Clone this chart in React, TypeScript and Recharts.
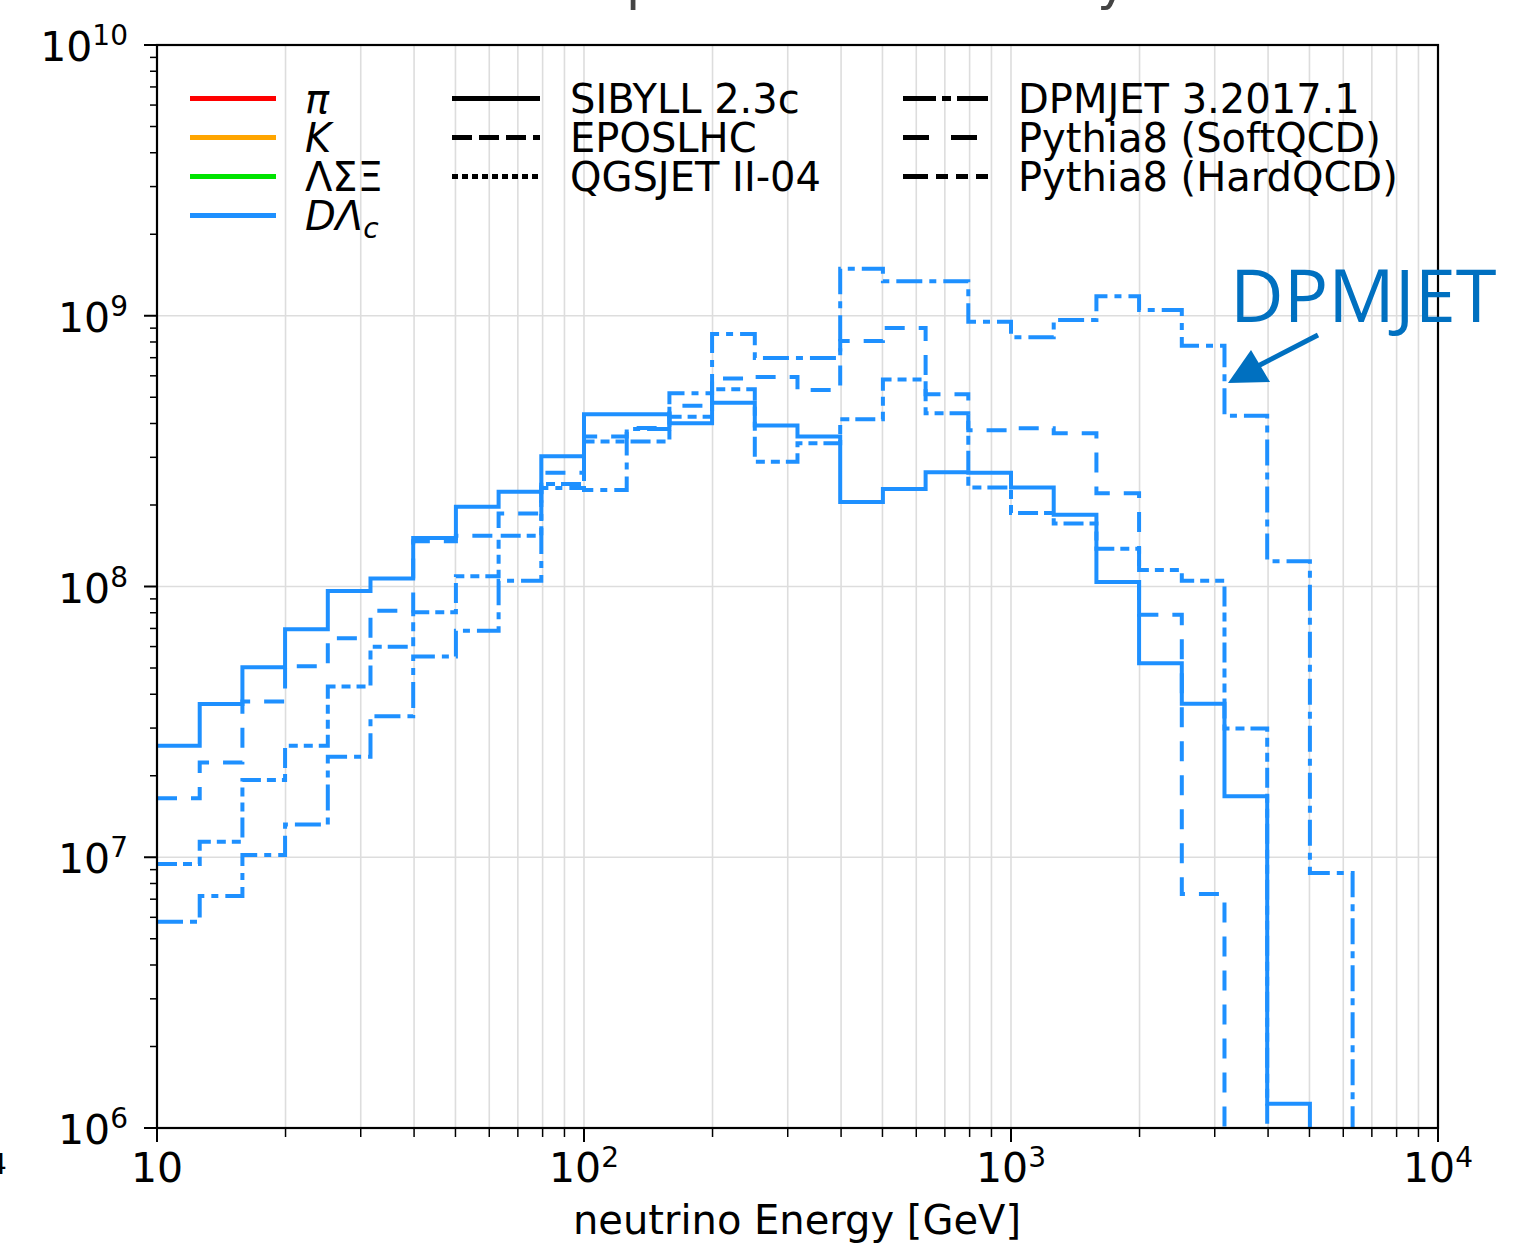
import React from "react";
import { LineChart, Line, XAxis, YAxis, CartesianGrid } from "recharts";

// bin edges in GeV (10 bins per decade)
const binEdges = [
  10, 12.59, 15.85, 19.95, 25.12, 31.62, 39.81, 50.12, 63.1, 79.43,
  100, 125.9, 158.5, 199.5, 251.2, 316.2, 398.1, 501.2, 631, 794.3,
  1000, 1259, 1585, 1995, 2512, 3162, 3981, 5012, 6310, 7943, 10000,
];

// D / Lambda_c neutrino counts per bin (0 = empty bin)
const sibyll = [
  2.58e7, 3.68e7, 5.03e7, 6.95e7, 9.62e7, 1.07e8, 1.51e8, 1.97e8, 2.24e8, 3.03e8,
  4.33e8, 4.33e8, 4.01e8, 4.77e8, 3.93e8, 3.58e8, 2.05e8, 2.29e8, 2.64e8, 2.63e8,
  2.32e8, 1.84e8, 1.04e8, 5.21e7, 3.69e7, 1.68e7, 1.23e6, 0, 0, 0,
];
const dpmjet = [
  5.78e6, 7.19e6, 1.02e7, 1.32e7, 2.35e7, 3.32e7, 5.51e7, 6.87e7, 1.05e8, 2.31e8,
  2.27e8, 3.82e8, 5.17e8, 8.57e8, 6.98e8, 6.98e8, 1.49e9, 1.34e9, 1.34e9, 9.51e8,
  8.33e8, 9.65e8, 1.18e9, 1.05e9, 7.75e8, 4.27e8, 1.24e8, 8.75e6, 0, 0,
];
const pythiaSoft = [
  1.65e7, 2.24e7, 3.76e7, 5.08e7, 6.44e7, 8.14e7, 1.47e8, 1.54e8, 1.86e8, 2.63e8,
  3.58e8, 3.85e8, 4.65e8, 5.87e8, 5.94e8, 5.32e8, 8.07e8, 9.01e8, 5.13e8, 3.78e8,
  3.84e8, 3.68e8, 2.21e8, 7.87e7, 7.31e6, 0, 0, 0, 0, 0,
];
const pythiaHard = [
  9.44e6, 1.14e7, 1.93e7, 2.58e7, 4.27e7, 5.99e7, 8.03e7, 1.09e8, 1.54e8, 2.39e8,
  3.43e8, 3.43e8, 4.24e8, 5.35e8, 2.89e8, 3.38e8, 4.15e8, 5.82e8, 4.36e8, 2.32e8,
  1.87e8, 1.71e8, 1.38e8, 1.15e8, 1.05e8, 2.99e7, 0, 0, 0, 0,
];

const xMajors = [10, 100, 1000, 10000];
const yMajors = [1e6, 1e7, 1e8, 1e9, 1e10];
const minorSteps = [2, 3, 4, 5, 6, 7, 8, 9];

const BLUE = "#1e90ff";
const FONT = "DejaVu Sans";
const FLOOR = 1e3; // empty bins sit under the axis and get clipped

const series = [
  { key: "sibyll", values: sibyll, dash: undefined },
  { key: "dpmjet", values: dpmjet, dash: "26 7 7 7" },
  { key: "pythiaSoft", values: pythiaSoft, dash: "20 14" },
  { key: "pythiaHard", values: pythiaHard, dash: "20 6 9 6 9 6" },
];

function withMinors(majors: number[]) {
  const out: number[] = [];
  majors.forEach((m, i) => {
    out.push(m);
    if (i < majors.length - 1) minorSteps.forEach((s) => out.push(m * s));
  });
  return out;
}

const xTicks = withMinors(xMajors);
const yTicks = withMinors(yMajors);

// step data: one point per lower bin edge, last edge repeats the last bin
const data = binEdges.map((x, i) => {
  const row: Record<string, number> = { x };
  series.forEach((s) => {
    const v = s.values[Math.min(i, s.values.length - 1)];
    row[s.key] = v > 0 ? v : FLOOR;
  });
  return row;
});

const isMajor = (v: number) => {
  const e = Math.log10(v);
  return Math.abs(e - Math.round(e)) < 1e-6;
};

function YTick(props: any) {
  const { x, y, payload } = props;
  const major = isMajor(payload.value);
  const e = Math.round(Math.log10(payload.value));
  return (
    <g>
      <line x1={x - (major ? 13 : 7)} x2={x} y1={y} y2={y} stroke="#000" strokeWidth={major ? 2 : 1.5} />
      {major && (
        <text x={x - 29} y={y + 16} textAnchor="end" fontFamily={FONT} fontSize={41} fill="#000">
          10
          <tspan dy={-16} fontSize={28}>
            {e}
          </tspan>
        </text>
      )}
    </g>
  );
}

function XTick(props: any) {
  const { x, y, payload } = props;
  const major = isMajor(payload.value);
  const e = Math.round(Math.log10(payload.value));
  return (
    <g>
      <line x1={x} x2={x} y1={y} y2={y + (major ? 14 : 9)} stroke="#000" strokeWidth={major ? 2 : 1.5} />
      {major && (
        <text x={x} y={y + 54} textAnchor="middle" fontFamily={FONT} fontSize={41} fill="#000">
          10
          {e > 1 && (
            <tspan dy={-15} fontSize={28}>
              {e}
            </tspan>
          )}
        </text>
      )}
    </g>
  );
}

const legendRows = [113, 152, 191, 230];

function Overlay() {
  const t = { fontFamily: FONT, fontSize: 40, fill: "#000" };
  const s = (r: number) => legendRows[r] - 14.5;
  return (
    <svg
      width={1531}
      height={1256}
      style={{ position: "absolute", left: 0, top: 0, pointerEvents: "none" }}
    >
      {/* clipped title remnants */}
      <text x={626} y={-1} fontFamily={FONT} fontSize={52} fill="#444">p</text>
      <text x={1097} y={-1} fontFamily={FONT} fontSize={52} fill="#444">y</text>
      <text x={-11} y={1174} fontFamily={FONT} fontSize={28} fill="#000">4</text>

      <rect x={157} y={45} width={1281} height={1083} fill="none" stroke="#000" strokeWidth={2.2} />

      {/* particle colours */}
      <line x1={190} x2={276} y1={s(0)} y2={s(0)} stroke="#ff0000" strokeWidth={5} />
      <line x1={190} x2={276} y1={s(1)} y2={s(1)} stroke="#ffa500" strokeWidth={5} />
      <line x1={190} x2={276} y1={s(2)} y2={s(2)} stroke="#00e400" strokeWidth={5} />
      <line x1={190} x2={276} y1={s(3)} y2={s(3)} stroke={BLUE} strokeWidth={5} />
      <text x={305} y={legendRows[0]} {...t} fontStyle="italic">π</text>
      <text x={305} y={legendRows[1]} {...t} fontStyle="italic">K</text>
      <text x={305} y={legendRows[2]} {...t}>ΛΣΞ</text>
      <text x={305} y={legendRows[3]} {...t} fontStyle="italic">
        DΛ
        <tspan fontSize={28} dy={8}>c</tspan>
      </text>

      {/* models */}
      <line x1={452} x2={540} y1={s(0)} y2={s(0)} stroke="#000" strokeWidth={5} />
      <line x1={452} x2={540} y1={s(1)} y2={s(1)} stroke="#000" strokeWidth={5} strokeDasharray="20 7" />
      <line x1={452} x2={540} y1={s(2)} y2={s(2)} stroke="#000" strokeWidth={5} strokeDasharray="6 4" />
      <text x={570} y={legendRows[0]} {...t}>SIBYLL 2.3c</text>
      <text x={570} y={legendRows[1]} {...t}>EPOSLHC</text>
      <text x={570} y={legendRows[2]} {...t}>QGSJET II-04</text>

      <line x1={903} x2={988} y1={s(0)} y2={s(0)} stroke="#000" strokeWidth={5} strokeDasharray="33 6 9 6" />
      <line x1={903} x2={988} y1={s(1)} y2={s(1)} stroke="#000" strokeWidth={5} strokeDasharray="26 22" />
      <line x1={903} x2={988} y1={s(2)} y2={s(2)} stroke="#000" strokeWidth={5} strokeDasharray="25 8 12 8 12 8" />
      <text x={1018} y={legendRows[0]} {...t}>DPMJET 3.2017.1</text>
      <text x={1018} y={legendRows[1]} {...t}>Pythia8 (SoftQCD)</text>
      <text x={1018} y={legendRows[2]} {...t}>Pythia8 (HardQCD)</text>

      {/* annotation */}
      <text x={1230} y={322} fontFamily="Open Sans" fontSize={74} fill="#0070c0">DPMJET</text>
      <line x1={1318} y1={335} x2={1256} y2={367} stroke="#0070c0" strokeWidth={5} />
      <polygon points="1228,383 1251,350 1270,382" fill="#0070c0" />

      <text x={797} y={1234} textAnchor="middle" fontFamily={FONT} fontSize={40} fill="#000">
        neutrino Energy [GeV]
      </text>
    </svg>
  );
}

export default function App() {
  return (
    <div style={{ position: "absolute", left: 0, top: 0, width: 1531, height: 1256, background: "#fff" }}>
      <LineChart width={1531} height={1256} data={data} margin={{ top: 45, right: 93, bottom: 0, left: 0 }}>
        <CartesianGrid
          stroke="#dddddd"
          strokeWidth={1.6}
          horizontalValues={yMajors}
          verticalValues={xTicks}
        />
        <XAxis
          dataKey="x"
          type="number"
          scale="log"
          domain={[10, 10000]}
          ticks={xTicks}
          interval={0}
          allowDataOverflow
          axisLine={false}
          tickLine={false}
          tickSize={0}
          tickMargin={0}
          height={128}
          tick={(p: any) => <XTick {...p} />}
        />
        <YAxis
          type="number"
          scale="log"
          domain={[1e6, 1e10]}
          ticks={yTicks}
          interval={0}
          allowDataOverflow
          axisLine={false}
          tickLine={false}
          tickSize={0}
          tickMargin={0}
          width={157}
          tick={(p: any) => <YTick {...p} />}
        />
        {series.map((s) => (
          <Line
            key={s.key}
            dataKey={s.key}
            type="stepAfter"
            stroke={BLUE}
            strokeWidth={4}
            strokeDasharray={s.dash}
            dot={false}
            activeDot={false}
            isAnimationActive={false}
          />
        ))}
      </LineChart>
      <Overlay />
    </div>
  );
}
